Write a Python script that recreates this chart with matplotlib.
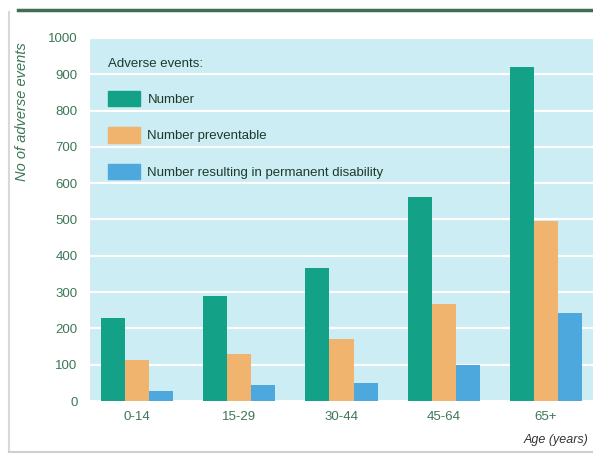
import matplotlib
matplotlib.use('Agg')
import matplotlib.pyplot as plt
from matplotlib.patches import Patch
from matplotlib.lines import Line2D
import numpy as np

plt.rcParams['font.family'] = ['Liberation Sans Narrow', 'Liberation Sans', 'DejaVu Sans']

ages = ['0-14', '15-29', '30-44', '45-64', '65+']
number = [230, 290, 366, 562, 920]
preventable = [113, 129, 171, 267, 496]
disability = [28, 44, 50, 99, 242]

green = '#13a287'
orange = '#f0b46e'
blue = '#4da8dd'
tick_col = '#3d7656'

fig = plt.figure(figsize=(5.93, 4.55), dpi=100)
ax = fig.add_axes([90/593, 1-401/455, 503/593, 363/455])
ax.set_facecolor('#cbedf3')

x = np.arange(len(ages))
w = 0.235
ax.bar(x - w, number, w, color=green, zorder=3)
ax.bar(x, preventable, w, color=orange, zorder=3)
ax.bar(x + w, disability, w, color=blue, zorder=3)

ax.set_ylim(0, 1000)
ax.set_xlim(-0.46, 4.46)
ax.set_yticks(range(0, 1001, 100))
ax.yaxis.grid(True, color='white', linewidth=1.6, zorder=1)
ax.set_axisbelow(True)
ax.set_xticks(x)
ax.set_xticklabels(ages)
ax.tick_params(length=0, colors=tick_col, labelsize=9.5)
ax.tick_params(axis='y', pad=9)
ax.tick_params(axis='x', pad=7)
for s in ax.spines.values():
    s.set_visible(False)

fig.text(22/593, 1-112/455, 'No of adverse events', rotation=90, ha='center', va='center',
         fontsize=10.5, style='italic', color=tick_col)
fig.text(588/593, 1-440/455, 'Age (years)', ha='right', va='center',
         fontsize=9, style='italic', color='#333333')

handles = [Patch(color=green), Patch(color=orange), Patch(color=blue)]
labels = ['Number', 'Number preventable', 'Number resulting in permanent disability']
leg = ax.legend(handles, labels, title='Adverse events:', loc='upper left',
                bbox_to_anchor=(0.012, 0.978), frameon=False, fontsize=9.5,
                title_fontsize=9.5, handlelength=2.4, handleheight=1.4,
                handletextpad=0.6, labelspacing=1.6, alignment='left',
                labelcolor='#1e3a2c')
leg.get_title().set_color('#1e3a2c')

# frame lines of the page
fig.add_artist(Line2D([18/593, 1], [1-10/455, 1-10/455], color='#3f6e55', linewidth=2.5))
fig.add_artist(Line2D([9/593, 9/593], [1-452/455, 1-12/455], color='#d8d8d8', linewidth=1.5))
fig.add_artist(Line2D([9/593, 1], [1-452/455, 1-452/455], color='#cfcfcf', linewidth=1.5))

fig.savefig('out.png', dpi=100)
